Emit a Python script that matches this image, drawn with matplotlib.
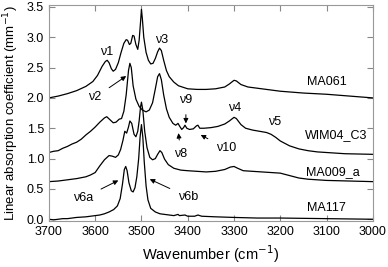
import matplotlib
matplotlib.use("Agg")
import matplotlib.pyplot as plt

plt.rcParams['font.family'] = ['Liberation Sans', 'DejaVu Sans']

# spectra: wavenumber (cm-1) and absorption (mm-1)
ma061_wn = [3700, 3680, 3660, 3640, 3620, 3605, 3595, 3585, 3578, 3574, 3570, 3565, 3561, 3556,
            3550, 3544, 3538, 3533, 3530, 3526, 3523, 3519, 3516, 3512, 3508, 3505, 3502, 3500,
            3498, 3495, 3490, 3485, 3480, 3475, 3470, 3465, 3461, 3457, 3452, 3446, 3440, 3430,
            3420, 3400, 3380, 3360, 3340, 3320, 3310, 3300, 3295, 3285, 3270, 3250, 3220, 3200,
            3150, 3100, 3050, 3000]
ma061_y = [2.00, 2.03, 2.07, 2.12, 2.19, 2.27, 2.37, 2.52, 2.60, 2.62, 2.58, 2.48, 2.44, 2.47,
           2.58, 2.75, 2.90, 2.96, 2.95, 2.88, 2.90, 3.03, 3.02, 2.88, 2.80, 2.95, 3.25, 3.46,
           3.30, 3.00, 2.75, 2.62, 2.56, 2.57, 2.65, 2.76, 2.82, 2.78, 2.62, 2.45, 2.35, 2.26,
           2.20, 2.15, 2.14, 2.14, 2.15, 2.18, 2.23, 2.29, 2.28, 2.22, 2.18, 2.16, 2.13, 2.11,
           2.08, 2.06, 2.03, 2.00]

wim04_wn = [3700, 3690, 3680, 3670, 3660, 3650, 3640, 3630, 3620, 3610, 3600, 3590, 3580, 3575,
            3568, 3561, 3555, 3548, 3543, 3538, 3533, 3528, 3525, 3522, 3518, 3512, 3505, 3498,
            3490, 3483, 3476, 3470, 3465, 3461, 3457, 3452, 3446, 3440, 3432, 3426, 3421, 3418,
            3413, 3409, 3406, 3402, 3396, 3388, 3381, 3378, 3374, 3365, 3350, 3335, 3320, 3310,
            3300, 3295, 3285, 3275, 3260, 3245, 3230, 3220, 3210, 3200, 3180, 3160, 3140, 3120,
            3100, 3060, 3000]
wim04_y = [1.10, 1.12, 1.13, 1.17, 1.20, 1.24, 1.27, 1.32, 1.39, 1.45, 1.52, 1.60, 1.67, 1.69,
           1.64, 1.59, 1.60, 1.65, 1.66, 1.78, 2.05, 2.45, 2.57, 2.50, 2.20, 1.98, 1.86, 1.80,
           1.77, 1.80, 1.92, 2.15, 2.35, 2.40, 2.30, 2.05, 1.82, 1.68, 1.58, 1.55, 1.58, 1.54,
           1.48, 1.51, 1.55, 1.50, 1.48, 1.49, 1.54, 1.55, 1.50, 1.50, 1.51, 1.53, 1.57, 1.62,
           1.68, 1.66, 1.56, 1.50, 1.47, 1.45, 1.43, 1.40, 1.35, 1.29, 1.21, 1.16, 1.13, 1.11,
           1.10, 1.08, 1.07]

ma009_wn = [3700, 3680, 3660, 3640, 3620, 3610, 3600, 3590, 3580, 3570, 3563, 3556, 3550, 3545,
            3540, 3536, 3532, 3528, 3525, 3521, 3516, 3512, 3508, 3505, 3502, 3500, 3497, 3493,
            3488, 3482, 3476, 3470, 3465, 3460, 3456, 3450, 3442, 3430, 3415, 3400, 3380, 3360,
            3340, 3320, 3308, 3300, 3292, 3280, 3260, 3240, 3220, 3200, 3180, 3160, 3140, 3100,
            3050, 3000]
ma009_y = [0.62, 0.63, 0.65, 0.67, 0.70, 0.73, 0.77, 0.88, 0.98, 1.05, 1.04, 1.02, 1.06, 1.15,
           1.30, 1.45, 1.42, 1.52, 1.62, 1.58, 1.40, 1.36, 1.45, 1.62, 1.85, 1.93, 1.80, 1.45,
           1.18, 1.02, 0.98, 1.00, 1.07, 1.13, 1.10, 0.99, 0.90, 0.84, 0.81, 0.80, 0.79, 0.78,
           0.79, 0.82, 0.86, 0.87, 0.84, 0.80, 0.79, 0.78, 0.77, 0.76, 0.72, 0.68, 0.66, 0.64,
           0.63, 0.62]

ma117_wn = [3700, 3690, 3680, 3670, 3660, 3640, 3620, 3600, 3590, 3580, 3570, 3560, 3552, 3546,
            3541, 3537, 3534, 3531, 3527, 3522, 3518, 3514, 3510, 3506, 3503, 3500, 3497, 3494,
            3490, 3486, 3480, 3470, 3460, 3450, 3440, 3430, 3421, 3418, 3406, 3400, 3385, 3378,
            3370, 3340, 3300, 3250, 3200, 3100, 3000]
ma117_y = [0.00, -0.01, 0.00, 0.01, 0.01, 0.03, 0.04, 0.06, 0.07, 0.09, 0.12, 0.16, 0.22, 0.34,
           0.58, 0.82, 0.87, 0.80, 0.60, 0.47, 0.45, 0.52, 0.70, 1.00, 1.35, 1.56, 1.35, 0.95,
           0.55, 0.32, 0.18, 0.12, 0.09, 0.08, 0.07, 0.06, 0.08, 0.06, 0.07, 0.05, 0.05, 0.07,
           0.05, 0.04, 0.03, 0.02, 0.02, 0.01, 0.00]

curves = [(ma061_wn, ma061_y), (wim04_wn, wim04_y), (ma009_wn, ma009_y), (ma117_wn, ma117_y)]
curve_names = ['MA061', 'WIM04_C3', 'MA009_a', 'MA117']
name_pos = [(3100, 2.27), (3079, 1.39), (3087, 0.78), (3100, 0.18)]

# plain labels: text, x, y
mode_labels = [('ν1', 3575, 2.76), ('ν3', 3456, 2.95), ('ν4', 3298, 1.83), ('ν5', 3212, 1.60)]
# arrowed labels: text, text x, text y, tip x, tip y
arrow_labels = [('ν2', 3600, 2.01, 3533, 2.36),
                ('ν9', 3404, 1.96, 3404, 1.58),
                ('ν8', 3415, 1.07, 3420, 1.42),
                ('ν10', 3318, 1.17, 3372, 1.39),
                ('ν6a', 3626, 0.35, 3550, 0.64),
                ('ν6b', 3400, 0.37, 3482, 0.66)]

fig = plt.figure(figsize=(3.88, 2.67), dpi=100)
ax = fig.add_axes([0.126, 0.172, 0.835, 0.809])

for (wn, y) in curves:
    ax.plot(wn, y, color='black', lw=0.9)

for name, (x, y) in zip(curve_names, name_pos):
    ax.text(x, y, name, fontsize=9, ha='center', va='center')

for t, x, y in mode_labels:
    ax.text(x, y, t, fontsize=9, ha='center', va='center')

for t, x, y, tx, ty in arrow_labels:
    ax.annotate(t, xy=(tx, ty), xytext=(x, y), fontsize=9, ha='center', va='center',
                arrowprops=dict(arrowstyle='-|>', color='black', lw=0.7,
                                mutation_scale=7, shrinkA=4, shrinkB=0))

ax.set_xlim(3700, 3000)
ax.set_ylim(-0.03, 3.53)
ax.set_xticks(range(3700, 2999, -100))
ax.set_yticks([0.0, 0.5, 1.0, 1.5, 2.0, 2.5, 3.0, 3.5])
ax.set_yticklabels(['0.0', '0.5', '1.0', '1.5', '2.0', '2.5', '3.0', '3.5'])
ax.tick_params(direction='in', top=True, right=True, labelsize=9, length=4, color='#888888')
for s in ax.spines.values():
    s.set_color('#999999')
ax.set_xlabel('Wavenumber (cm$^{-1}$)', fontsize=10.5)
ax.set_ylabel('Linear absorption coefficient (mm$^{-1}$)', fontsize=9.5)

fig.savefig('out.png', dpi=100)
